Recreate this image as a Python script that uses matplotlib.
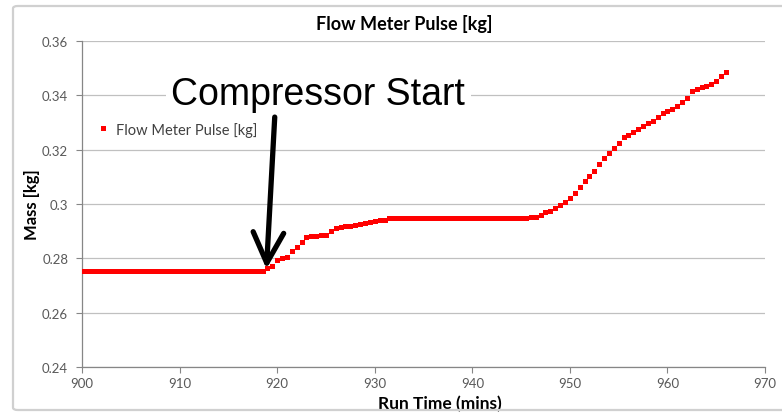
import numpy as np
import matplotlib.pyplot as plt
from matplotlib.patches import FancyBboxPatch

# Logged samples, one every half minute
run_time = np.arange(900, 966.01, 0.5)
mass = (
    [0.2753] * 37 + [0.2755] +
    # 919.0 - 931.5 : compressor start step
    [0.2763, 0.2773, 0.2795, 0.2803, 0.2805, 0.2828, 0.2841, 0.2859, 0.2878, 0.2881,
     0.2884, 0.2885, 0.2885, 0.2902, 0.2911, 0.2914, 0.2918, 0.2920, 0.2924, 0.2927,
     0.2929, 0.2933, 0.2938, 0.2940, 0.2942, 0.2947] +
    # 932.0 - 945.5 : plateau
    [0.2949] * 28 +
    # 946.0 - 966.0 : second rise
    [0.2951, 0.2953, 0.2960, 0.2970, 0.2973, 0.2985, 0.2998, 0.3006, 0.3021, 0.3041,
     0.3062, 0.3086, 0.3102, 0.3120, 0.3147, 0.3169, 0.3188, 0.3206, 0.3225, 0.3248,
     0.3255, 0.3264, 0.3276, 0.3286, 0.3298, 0.3307, 0.3321, 0.3335, 0.3343, 0.3350,
     0.3362, 0.3374, 0.3389, 0.3417, 0.3423, 0.3430, 0.3436, 0.3442, 0.3454, 0.3470,
     0.3487]
)

x_ticks = [900, 910, 920, 930, 940, 950, 960, 970]
y_ticks = [0.24, 0.26, 0.28, 0.30, 0.32, 0.34, 0.36]
y_tick_labels = ['0.24', '0.26', '0.28', '0.3', '0.32', '0.34', '0.36']

arrow_tip = (918.9, 0.2761)
arrow_tail = (919.75, 0.3320)
note_pos = (924.2, 0.3405)

plt.rcParams['font.family'] = ['Lato', 'DejaVu Sans']

fig = plt.figure(figsize=(7.82, 4.14), dpi=100)
ax = fig.add_axes([0.1049, 0.1111, 0.8734, 0.7874])

# outer chart frame
frame = FancyBboxPatch((13 / 782, 3 / 414), 800 / 782, 404 / 414,
                       boxstyle='round,pad=0,rounding_size=0.006',
                       transform=fig.transFigure, fill=False,
                       edgecolor='#D0D0D0', linewidth=1.6, zorder=0)
fig.patches.append(frame)

ax.plot(run_time, mass, linestyle='none', marker='s', markersize=3.6,
        color='#FF0000', markeredgewidth=0, label='Flow Meter Pulse [kg]',
        zorder=3)

ax.set_xlim(900, 970)
ax.set_ylim(0.24, 0.36)
ax.set_xticks(x_ticks)
ax.set_yticks(y_ticks)
ax.set_yticklabels(y_tick_labels)
ax.tick_params(labelsize=9.5, colors='#595959', length=4, width=0.8,
               direction='out')
ax.tick_params(axis='x', colors='#868686', labelcolor='#595959', pad=3)
ax.tick_params(axis='y', colors='#868686', labelcolor='#595959', pad=6)
ax.grid(axis='y', color='#C0C0C0', linewidth=0.9)
ax.set_axisbelow(True)
for side in ['top', 'right']:
    ax.spines[side].set_visible(False)
for side in ['left', 'bottom']:
    ax.spines[side].set_color('#868686')
    ax.spines[side].set_linewidth(0.9)

ax.set_title('Flow Meter Pulse [kg]', fontsize=13, fontweight='bold', pad=9,
             x=0.4715)
ax.set_xlabel('Run Time (mins)', fontsize=12.5, fontweight='bold')
ax.set_ylabel('Mass [kg]', fontsize=12, fontweight='bold')
ax.xaxis.set_label_coords(0.524, -0.086)
ax.yaxis.set_label_coords(-0.0615, 0.5)

ax.legend(loc='center left', bbox_to_anchor=(0.005, 0.73), frameon=False,
          fontsize=10.5, handlelength=0.6, handletextpad=0.6, markerscale=1.0,
          labelcolor='#404040')

ax.annotate('', xy=arrow_tip, xytext=arrow_tail,
            arrowprops=dict(arrowstyle='->,head_length=1.0,head_width=0.5',
                            color='black', linewidth=3.8, mutation_scale=22,
                            shrinkA=0, shrinkB=0),
            zorder=5)
ax.text(note_pos[0], note_pos[1], 'Compressor Start', fontsize=27,
        family=['Liberation Sans', 'DejaVu Sans'], ha='center', va='center',
        bbox=dict(boxstyle='square,pad=0.15', facecolor='white',
                  edgecolor='none'), zorder=4)

fig.savefig('out.png', dpi=100)
